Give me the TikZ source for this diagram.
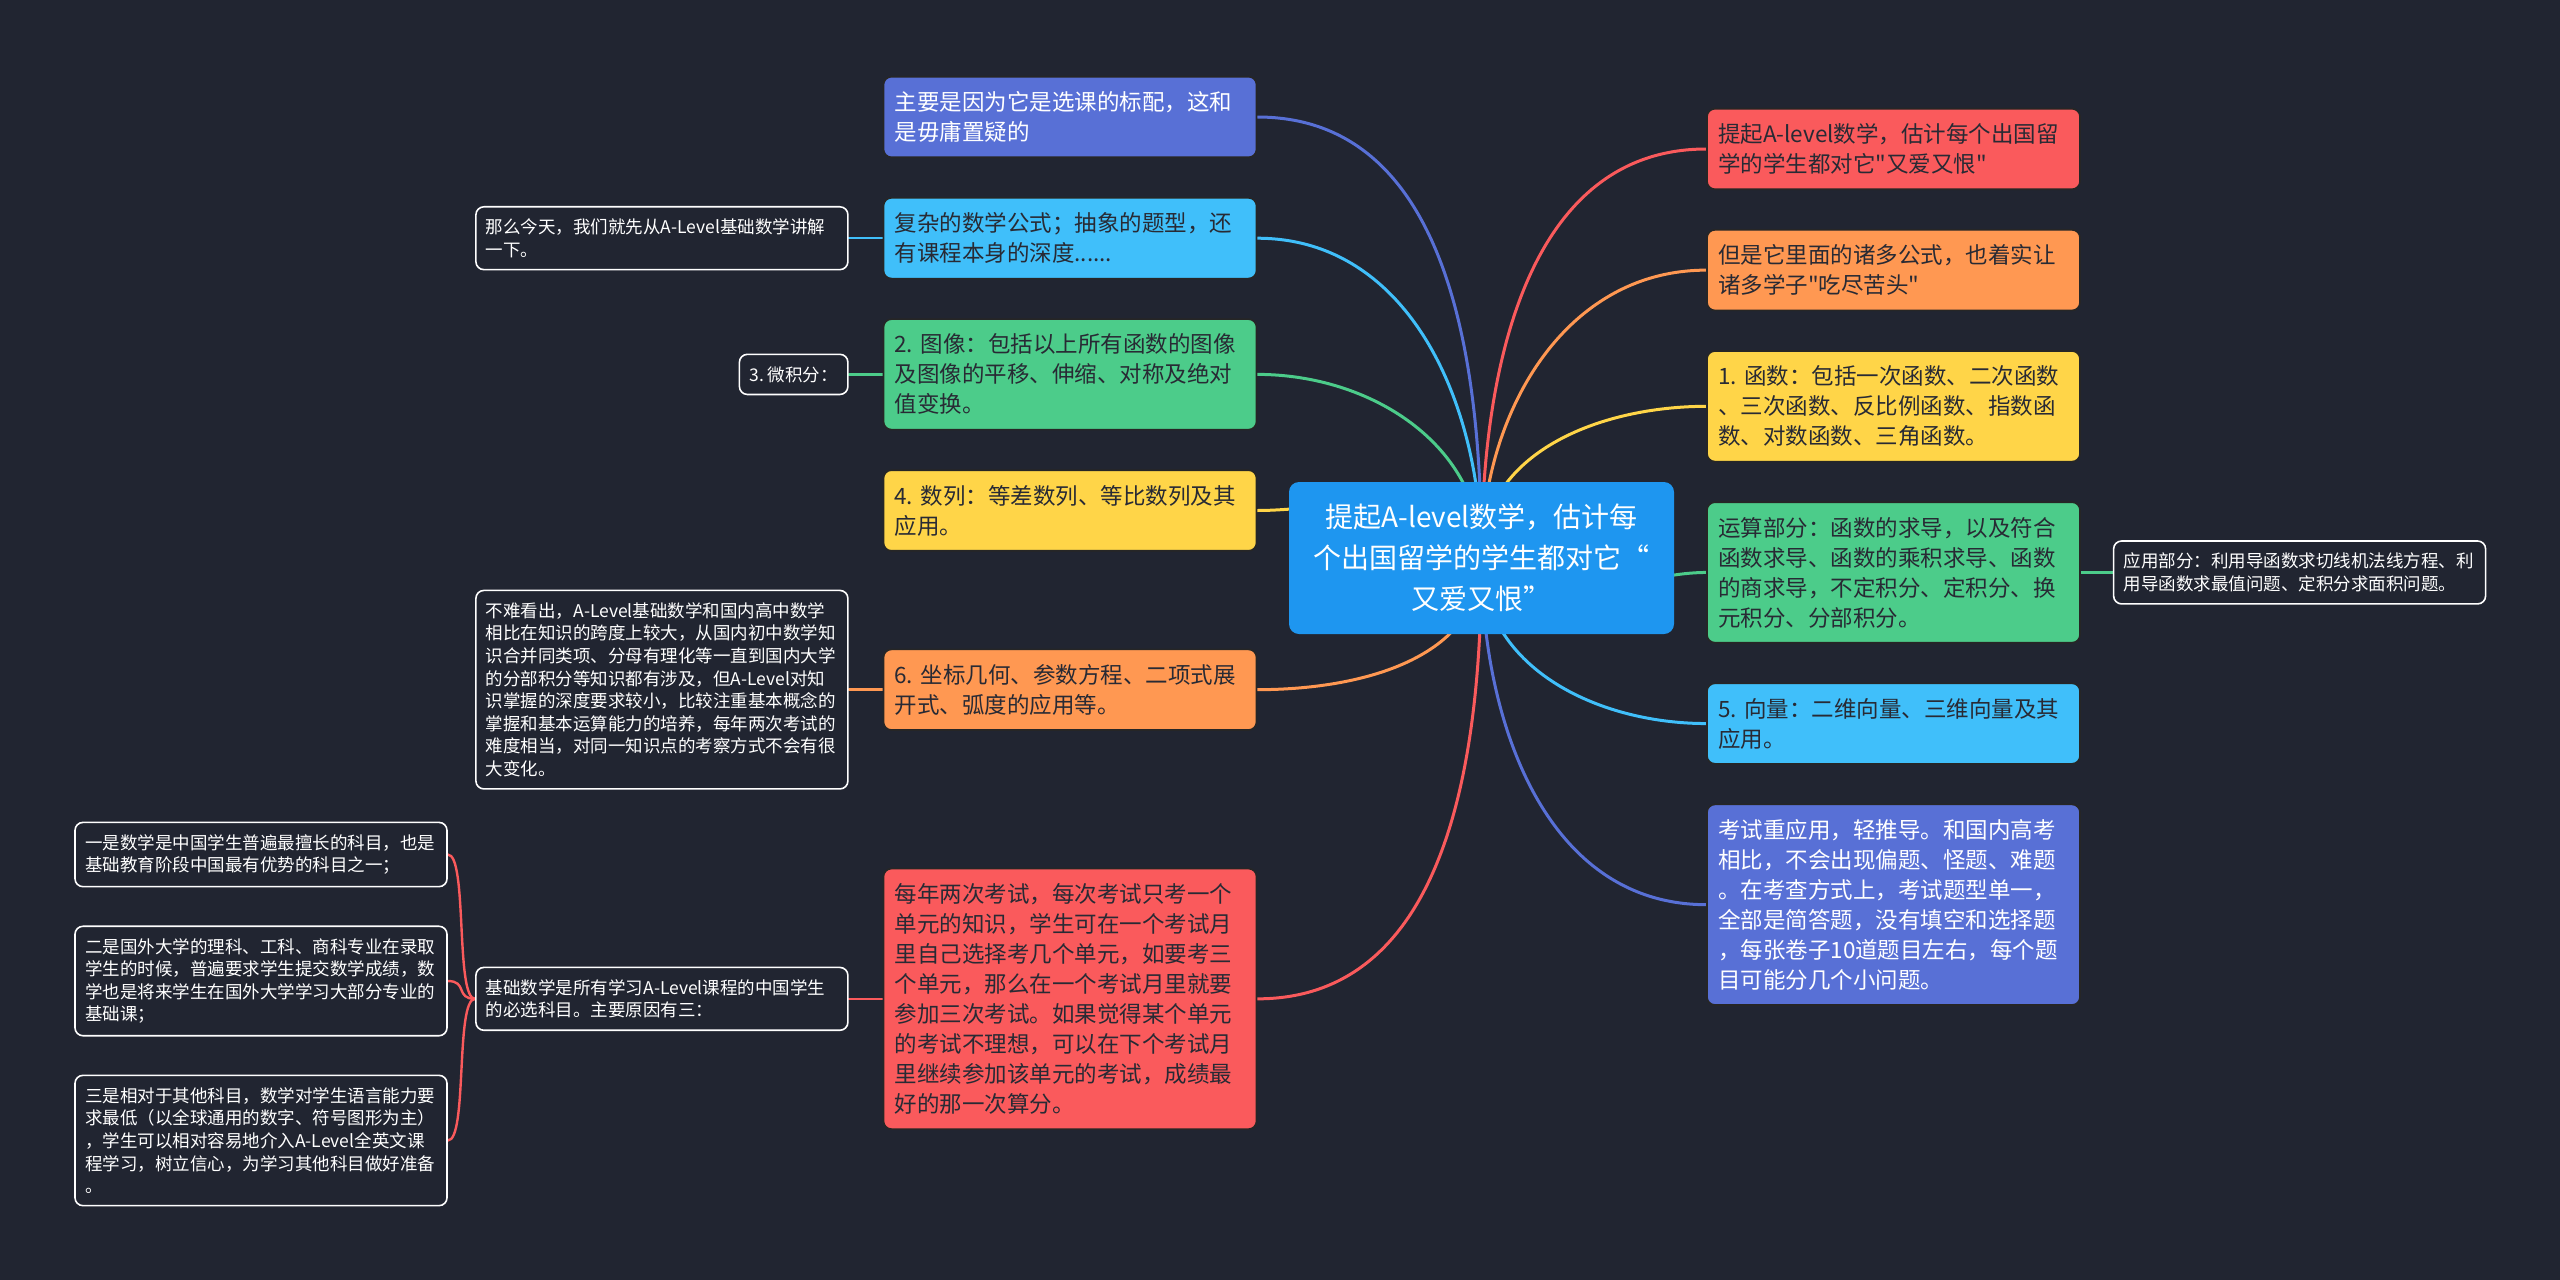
\documentclass[tikz,border=0pt]{standalone}
\usepackage{fontspec}
\newfontfamily\cjk{Noto Sans CJK SC}
\frenchspacing
\usetikzlibrary{positioning}
\pgfdeclarelayer{background}
\pgfsetlayers{background,main}
\definecolor{bgc}{RGB}{33,37,49}
\definecolor{cpurple}{RGB}{88,112,214}
\definecolor{cblue}{RGB}{64,191,250}
\definecolor{cgreen}{RGB}{76,204,138}
\definecolor{cyellow}{RGB}{255,213,72}
\definecolor{corange}{RGB}{255,152,82}
\definecolor{cred}{RGB}{250,90,92}
\definecolor{ccenter}{RGB}{30,150,240}
\definecolor{inkdark}{RGB}{40,42,52}
\tikzset{
  rootbox/.style = {rectangle, fill=ccenter, rounded corners=5pt, text width=180.5pt, minimum height=76pt, inner xsep=6pt, align=center, text=white, font=\cjk\fontsize{14}{20.5}\selectfont},
  branch/.style = {rectangle, fill=#1, draw=black!85, line width=0.8pt, rounded corners=4pt, text width=175.5pt, inner xsep=5.5pt, inner ysep=7.4pt, align=left, text=inkdark, font=\cjk\fontsize{11.25}{15}\selectfont},
  light/.style = {text=white},
  note/.style = {rectangle, fill=bgc, draw=white, line width=0.8pt, rounded corners=4pt, inner xsep=5pt, inner ysep=6pt, align=left, text=white, font=\cjk\fontsize{8.75}{11.3}\selectfont},
  wide/.style = {text width=176pt},
  link/.style = {draw=#1, line width=1.5pt, line cap=round},
  twig/.style = {draw=#1, line width=1.2pt, line cap=round}
}
\begin{document}
\begin{tikzpicture}[x=0.5pt, y=-0.5pt, node distance=19.5pt and 17pt]

% backdrop
\begin{pgfonlayer}{background}
\fill[bgc] (0,0) rectangle (2560,1280);
\end{pgfonlayer}

% Centre
\node[rootbox] (root) at (1481.5,558) {提起A-level数学，估计每\\个出国留学的学生都对它“\\又爱又恨”};

% Left branches
\node[branch=cpurple, light] (l1) at (1070,117) {主要是因为它是选课的标配，这和\\是毋庸置疑的};
\node[branch=cblue, below=of l1] (l2) {复杂的数学公式；抽象的题型，还\\有课程本身的深度......};
\node[branch=cgreen, below=of l2] (l3) {2. 图像：包括以上所有函数的图像\\及图像的平移、伸缩、对称及绝对\\值变换。};
\node[branch=cyellow, below=of l3] (l4) {4. 数列：等差数列、等比数列及其\\应用。};
\node[branch=corange, below=48.5pt of l4] (l5) {6. 坐标几何、参数方程、二项式展\\开式、弧度的应用等。};
\node[branch=cred, below=68.5pt of l5] (l6) {每年两次考试，每次考试只考一个\\单元的知识，学生可在一个考试月\\里自己选择考几个单元，如要考三\\个单元，那么在一个考试月里就要\\参加三次考试。如果觉得某个单元\\的考试不理想，可以在下个考试月\\里继续参加该单元的考试，成绩最\\好的那一次算分。};

% Right branches
\node[branch=cred] (r1) at (1893.5,149) {提起A-level数学，估计每个出国留\\学的学生都对它"又爱又恨"};
\node[branch=corange, below=of r1] (r2) {但是它里面的诸多公式，也着实让\\诸多学子"吃尽苦头"};
\node[branch=cyellow, below=of r2] (r3) {1. 函数：包括一次函数、二次函数\\、三次函数、反比例函数、指数函\\数、对数函数、三角函数。};
\node[branch=cgreen, below=of r3] (r4) {运算部分：函数的求导，以及符合\\函数求导、函数的乘积求导、函数\\的商求导，不定积分、定积分、换\\元积分、分部积分。};
\node[branch=cblue, below=of r4] (r5) {5. 向量：二维向量、三维向量及其\\应用。};
\node[branch=cpurple, light, below=of r5] (r6) {考试重应用，轻推导。和国内高考\\相比，不会出现偏题、怪题、难题\\。在考查方式上，考试题型单一，\\全部是简答题，没有填空和选择题\\，每张卷子10道题目左右，每个题\\目可能分几个小问题。};

% Notes
\node[note, wide, left=of l2] (n1) {那么今天，我们就先从A-Level基础数学讲解\\一下。};
\node[note, left=of l3] (n2) {3. 微积分：};
\node[note, wide, left=of l5] (n3) {不难看出，A-Level基础数学和国内高中数学\\相比在知识的跨度上较大，从国内初中数学知\\识合并同类项、分母有理化等一直到国内大学\\的分部积分等知识都有涉及，但A-Level对知\\识掌握的深度要求较小，比较注重基本概念的\\掌握和基本运算能力的培养，每年两次考试的\\难度相当，对同一知识点的考察方式不会有很\\大变化。};
\node[note, wide, left=of l6] (n4) {基础数学是所有学习A-Level课程的中国学生\\的必选科目。主要原因有三：};
\node[note, wide] (n6) at (261,981) {二是国外大学的理科、工科、商科专业在录取\\学生的时候，普遍要求学生提交数学成绩，数\\学也是将来学生在国外大学学习大部分专业的\\基础课；};
\node[note, wide, above=19pt of n6] (n5) {一是数学是中国学生普遍最擅长的科目，也是\\基础教育阶段中国最有优势的科目之一；};
\node[note, wide, below=19pt of n6] (n7) {三是相对于其他科目，数学对学生语言能力要\\求最低（以全球通用的数字、符号图形为主）\\，学生可以相对容易地介入A-Level全英文课\\程学习，树立信心，为学习其他科目做好准备\\。};
\node[note, wide, right=16pt of r4] (n8) {应用部分：利用导函数求切线机法线方程、利\\用导函数求最值问题、定积分求面积问题。};

% ----- LINKS -----
\begin{pgfonlayer}{background}
% centre -> left
\draw[link=cpurple] (root.center) to[out=90,in=0] (l1.east);
\draw[link=cblue] (root.center) to[out=90,in=0] (l2.east);
\draw[link=cgreen] (root.center) to[out=90,in=0] (l3.east);
\draw[link=cyellow] (root.center) to[out=90,in=0] (l4.east);
\draw[link=corange] (root.center) to[out=270,in=0] (l5.east);
\draw[link=cred] (root.center) to[out=270,in=0] (l6.east);
% centre -> right
\draw[link=cred] (root.center) to[out=90,in=180] (r1.west);
\draw[link=corange] (root.center) to[out=90,in=180] (r2.west);
\draw[link=cyellow] (root.center) to[out=90,in=180] (r3.west);
\draw[link=cgreen] (root.center) to[out=270,in=180] (r4.west);
\draw[link=cblue] (root.center) to[out=270,in=180] (r5.west);
\draw[link=cpurple] (root.center) to[out=270,in=180] (r6.west);
% branch -> note
\draw[twig=cblue] (l2.west) -- (n1.east);
\draw[twig=cgreen] (l3.west) -- (n2.east);
\draw[twig=corange] (l5.west) -- (n3.east);
\draw[twig=cred] (l6.west) -- (n4.east);
\draw[twig=cgreen] (r4.east) -- (n8.west);
% note -> reasons
\draw[twig=cred] (n4.west) .. controls +(-20,0) and +(20,0) .. (n5.east);
\draw[twig=cred] (n4.west) .. controls +(-20,0) and +(20,0) .. (n6.east);
\draw[twig=cred] (n4.west) .. controls +(-20,0) and +(20,0) .. (n7.east);
\end{pgfonlayer}

\end{tikzpicture}
\end{document}
